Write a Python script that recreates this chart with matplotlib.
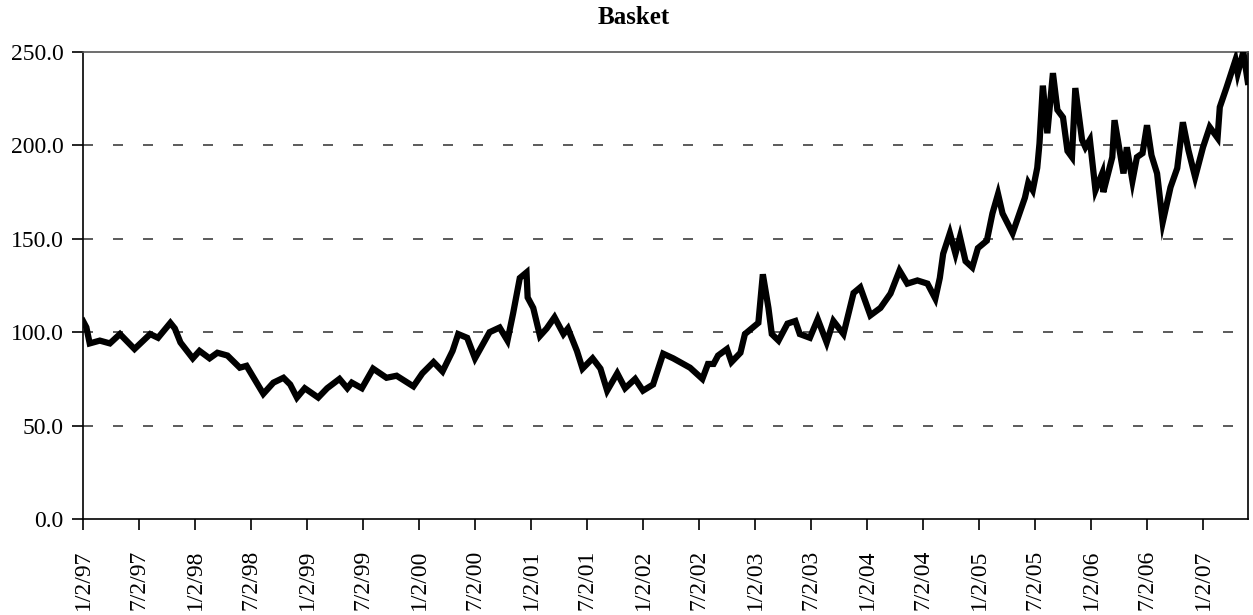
import matplotlib
matplotlib.use('Agg')
import matplotlib.pyplot as plt

# time in fractional years, basket value
years = [
    1997.00, 1997.03, 1997.06, 1997.15, 1997.24, 1997.33, 1997.46, 1997.60, 1997.67, 1997.78,
    1997.82, 1997.87, 1997.98, 1998.04, 1998.13, 1998.20, 1998.29, 1998.40, 1998.46, 1998.61,
    1998.70, 1998.79, 1998.85, 1998.91, 1998.98, 1999.10, 1999.18, 1999.29, 1999.36, 1999.40,
    1999.49, 1999.59, 1999.71, 1999.80, 1999.95, 2000.03, 2000.13, 2000.21, 2000.30, 2000.35,
    2000.43, 2000.50, 2000.63, 2000.72, 2000.79, 2000.84, 2000.90, 2000.96, 2000.97, 2001.02,
    2001.08, 2001.14, 2001.21, 2001.29, 2001.33, 2001.41, 2001.46, 2001.55, 2001.62, 2001.68,
    2001.77, 2001.84, 2001.93, 2002.00, 2002.09, 2002.18, 2002.27, 2002.42, 2002.53, 2002.58,
    2002.63, 2002.67, 2002.75, 2002.79, 2002.87, 2002.91, 2003.03, 2003.07, 2003.12, 2003.15,
    2003.21, 2003.29, 2003.36, 2003.40, 2003.49, 2003.56, 2003.64, 2003.70, 2003.79, 2003.88,
    2003.94, 2004.03, 2004.12, 2004.21, 2004.29, 2004.36, 2004.45, 2004.54, 2004.61, 2004.65,
    2004.68, 2004.74, 2004.79, 2004.83, 2004.88, 2004.94, 2004.99, 2005.07, 2005.12, 2005.17,
    2005.21, 2005.30, 2005.37, 2005.41, 2005.44, 2005.48, 2005.52, 2005.54, 2005.57, 2005.61,
    2005.66, 2005.70, 2005.75, 2005.79, 2005.83, 2005.86, 2005.92, 2005.95, 2005.99, 2006.04,
    2006.10, 2006.11, 2006.19, 2006.21, 2006.29, 2006.32, 2006.37, 2006.41, 2006.46, 2006.50,
    2006.54, 2006.59, 2006.64, 2006.71, 2006.77, 2006.82, 2006.87, 2006.93, 2007.00, 2007.06,
    2007.13, 2007.15, 2007.21, 2007.29, 2007.31, 2007.36, 2007.40,
]
basket = [
    106, 102.6, 94, 95.5, 94, 99, 91, 99, 97, 105,
    102, 94.5, 86, 90, 86, 89, 87.5, 81, 82, 67,
    73, 75.6, 72, 65, 70, 65, 70, 75, 70, 73,
    70, 80.5, 75.6, 76.7, 71, 78, 84, 79, 90, 99,
    97, 86, 100, 102.5, 95.5, 110, 129, 132, 118.6, 113,
    98, 102, 108, 99, 102, 90, 80.5, 86, 80.5, 68.7,
    78, 70, 75, 68.7, 72, 88.5, 86, 81, 75, 83,
    83, 87.5, 91, 84, 89, 99, 105, 131, 113, 99,
    95.5, 104.6, 106, 99, 97, 107, 94.5, 106, 99, 121,
    124, 109, 113, 120.7, 133, 126, 127.7, 126, 118, 129,
    142, 153, 142, 151, 138, 134.7, 145, 149, 163.6, 174,
    163.6, 153, 165, 172, 180, 176, 188, 201, 232, 206.5,
    238.7, 219, 215, 197, 193.7, 230.7, 203, 199, 203, 176,
    185, 175, 193.7, 213.5, 185, 199, 181, 193.7, 195.8, 210.8,
    194.7, 185, 158.8, 177.6, 187.8, 212.4, 197.4, 183, 199, 209.8,
    204, 220.5, 231, 245.7, 238.7, 250, 234,
]

tick_pos = [1997 + 0.5 * i for i in range(21)]
tick_labels = []
for i in range(21):
    yr = 97 + i // 2
    tick_labels.append(f"{'1' if i % 2 == 0 else '7'}/2/{yr % 100:02d}")

plt.rcParams['font.family'] = ['Liberation Serif', 'DejaVu Serif']

fig = plt.figure(figsize=(12.53, 6.15), dpi=100)
ax = fig.add_axes([83 / 1253, 1 - 519 / 615, (1248 - 83) / 1253, (519 - 52) / 615])

for g in [50, 100, 150, 200]:
    ax.axhline(g, color='#404040', lw=1.2, dashes=(6, 12), zorder=1)

ax.plot(years, basket, color='black', lw=4.5, solid_joinstyle='miter', zorder=3)

ax.set_xlim(1997.0, 1997 + (1248 - 83) / 112)
ax.set_ylim(0, 250)
ax.set_yticks([0, 50, 100, 150, 200, 250])
ax.set_yticklabels([f'{v:.1f}' for v in [0, 50, 100, 150, 200, 250]], fontsize=17)
ax.set_xticks(tick_pos)
ax.set_xticklabels(tick_labels, rotation=90, fontsize=17)
ax.tick_params(axis='y', direction='out', length=8, width=1.2, pad=6)
ax.tick_params(axis='x', direction='out', length=8, width=1.2, pad=14)

for side in ['left', 'bottom', 'right']:
    ax.spines[side].set_color('black')
    ax.spines[side].set_linewidth(1.2)
ax.spines['top'].set_color('#555555')
ax.spines['top'].set_linewidth(1.2)

fig.text(634 / 1253, 1 - 17 / 615, 'Basket', ha='center', va='center',
         fontsize=18, fontweight='bold')

fig.savefig('out.png', dpi=100)
